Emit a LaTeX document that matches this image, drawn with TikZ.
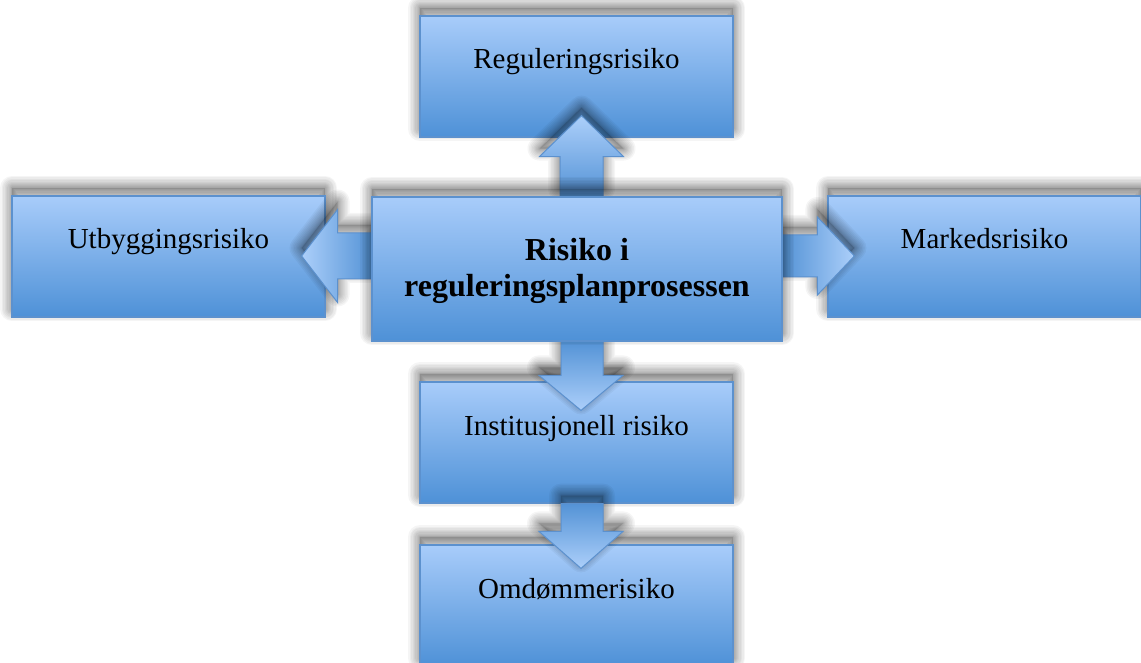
\documentclass[tikz,border=0pt]{standalone}
\usepackage{fontspec}
\setmainfont{Liberation Serif}
\usetikzlibrary{calc}

\definecolor{boxlight}{RGB}{168,204,250}
\definecolor{boxdark}{RGB}{78,145,215}
\definecolor{boxline}{RGB}{92,145,206}
\definecolor{arrowlight}{RGB}{172,207,250}
\definecolor{arrowdark}{RGB}{84,147,214}

\tikzset{
  % soft shadow lifted above the shape, built from stacked faint wide strokes
  shadowlayer/.style={preaction={draw=black, draw opacity=0.04, line width=#1,
      line join=round, transform canvas={yshift=8pt}}},
  softshadow/.style={
      preaction={fill=black, fill opacity=0.14, transform canvas={yshift=8pt}},
      shadowlayer=24pt, shadowlayer=21pt, shadowlayer=18pt, shadowlayer=15pt,
      shadowlayer=12pt, shadowlayer=9.5pt, shadowlayer=7pt, shadowlayer=5pt,
      shadowlayer=3pt, shadowlayer=1.5pt},
  riskbox/.style={softshadow, draw=boxline, line width=1.2pt,
      top color=boxlight, bottom color=boxdark,
      minimum width=313pt, minimum height=121pt, inner sep=0pt,
      text height=53pt, text depth=68pt,
      font=\fontsize{29}{34}\selectfont},
  mainbox/.style={riskbox, minimum width=410pt, minimum height=144pt,
      text height=100pt, text depth=44pt, align=center,
      font=\fontsize{32}{36}\selectfont\bfseries},
  blockarrow/.style={softshadow, draw=boxline, line width=1pt, line join=miter},
}

\begin{document}
\begin{tikzpicture}[x=1pt, y=-1pt]
  \fill[white] (0,0) rectangle (1141,663);
  \useasboundingbox (0,0) rectangle (1141,663);

  % outer risk boxes
  \node[riskbox] (top)   at (576.5,76.5)  {Reguleringsrisiko};
  \node[riskbox] (left)  at (168.5,256.5) {Utbyggingsrisiko};
  \node[riskbox] (right) at (984.5,256.5) {Markedsrisiko};
  \node[riskbox] (inst)  at (576.5,442.5) {Institusjonell risiko};
  \node[riskbox] (omd)   at (576.5,605.5) {Omdømmerisiko};

  % central box position (drawn last, on top of the arrows)
  \path (577,269) node[minimum width=410pt, minimum height=144pt, inner sep=0pt] (main) {};

  % up: main -> top
  \draw[blockarrow, top color=arrowlight, bottom color=arrowdark]
    ($(main.north)+(-17,0)$) -- ($(top.south)+(-16.5,19)$)
    -- ($(top.south)+(-37,19)$) -- ($(top.south)+(5,-22)$)
    -- ($(top.south)+(47,19)$) -- ($(top.south)+(26.5,19)$)
    -- ($(main.north)+(26,0)$) -- cycle;

  % left: main -> left
  \draw[blockarrow, left color=arrowlight, right color=arrowdark]
    ($(main.west)+(0,-36)$) -- ($(left.east)+(12,-23.5)$)
    -- ($(left.east)+(12,-47)$) -- ($(left.east)+(-24,-0.5)$)
    -- ($(left.east)+(12,46)$) -- ($(left.east)+(12,22.5)$)
    -- ($(main.west)+(0,10)$) -- cycle;

  % right: main -> right
  \draw[blockarrow, left color=arrowdark, right color=arrowlight]
    ($(main.east)+(0,-34)$) -- ($(right.west)+(-10,-21.5)$)
    -- ($(right.west)+(-10,-39.5)$) -- ($(right.west)+(27,-0.5)$)
    -- ($(right.west)+(-10,38.5)$) -- ($(right.west)+(-10,20.5)$)
    -- ($(main.east)+(0,8)$) -- cycle;

  % down: main -> inst
  \draw[blockarrow, top color=arrowdark, bottom color=arrowlight]
    ($(main.south)+(-16,0)$) -- ($(inst.north)+(-15.5,-6)$)
    -- ($(inst.north)+(-37.5,-6)$) -- ($(inst.north)+(4.5,29)$)
    -- ($(inst.north)+(46.5,-6)$) -- ($(inst.north)+(26.5,-6)$)
    -- ($(main.south)+(26,0)$) -- cycle;

  % down: inst -> omd
  \draw[blockarrow, top color=arrowdark, bottom color=arrowlight]
    ($(inst.south)+(-15.5,0)$) -- ($(omd.north)+(-15.5,-13)$)
    -- ($(omd.north)+(-37.5,-13)$) -- ($(omd.north)+(4.5,24)$)
    -- ($(omd.north)+(46.5,-13)$) -- ($(omd.north)+(26.5,-13)$)
    -- ($(inst.south)+(26.5,0)$) -- cycle;

  % central box
  \node[mainbox] at (main) {Risiko i\\reguleringsplanprosessen};
\end{tikzpicture}
\end{document}
